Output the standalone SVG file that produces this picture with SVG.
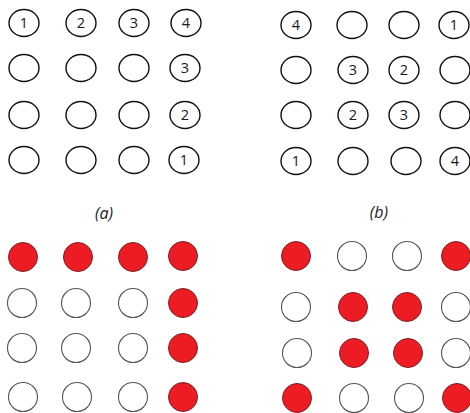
<svg xmlns="http://www.w3.org/2000/svg" width="470" height="413" viewBox="0 0 470 413">
<style>
.o{fill:#fff;stroke:#111;stroke-width:1.4}
.e{fill:#fff;stroke:#555;stroke-width:1.1}
.r{fill:#ED1C24;stroke:#7a2226;stroke-width:1}
.n{font-family:"Open Sans","DejaVu Sans",sans-serif;font-size:14.5px;fill:#1a1a1a;text-anchor:middle}
.cap{font-family:"Open Sans","DejaVu Sans",sans-serif;font-size:16px;font-style:italic;fill:#222;text-anchor:middle}
</style>
<rect width="470" height="413" fill="#fff"/>
<g id="grid-a-numbered">
<g id="a11"><ellipse class="o" cx="24" cy="23" rx="15" ry="13.5"/><text class="n" x="24" y="28">1</text></g>
<g id="a12"><ellipse class="o" cx="81" cy="23" rx="15" ry="13.5"/><text class="n" x="81" y="28">2</text></g>
<g id="a13"><ellipse class="o" cx="134" cy="23" rx="15" ry="13.5"/><text class="n" x="134" y="28">3</text></g>
<g id="a14"><ellipse class="o" cx="186" cy="23" rx="15" ry="13.5"/><text class="n" x="186" y="28">4</text></g>
<g id="a21"><ellipse class="o" cx="24" cy="68" rx="15" ry="13.5"/></g>
<g id="a22"><ellipse class="o" cx="81" cy="68" rx="15" ry="13.5"/></g>
<g id="a23"><ellipse class="o" cx="134" cy="68" rx="15" ry="13.5"/></g>
<g id="a24"><ellipse class="o" cx="185" cy="68" rx="15" ry="13.5"/><text class="n" x="185" y="73">3</text></g>
<g id="a31"><ellipse class="o" cx="24" cy="115" rx="15" ry="13.5"/></g>
<g id="a32"><ellipse class="o" cx="81" cy="115" rx="15" ry="13.5"/></g>
<g id="a33"><ellipse class="o" cx="134" cy="115" rx="15" ry="13.5"/></g>
<g id="a34"><ellipse class="o" cx="185" cy="115" rx="15" ry="13.5"/><text class="n" x="185" y="120">2</text></g>
<g id="a41"><ellipse class="o" cx="24" cy="160" rx="15" ry="13.5"/></g>
<g id="a42"><ellipse class="o" cx="81" cy="160" rx="15" ry="13.5"/></g>
<g id="a43"><ellipse class="o" cx="134" cy="160" rx="15" ry="13.5"/></g>
<g id="a44"><ellipse class="o" cx="184" cy="160" rx="15" ry="13.5"/><text class="n" x="184" y="165">1</text></g>
</g>
<g id="grid-b-numbered">
<g id="b11"><ellipse class="o" cx="296" cy="25" rx="15" ry="13.5"/><text class="n" x="296" y="30">4</text></g>
<g id="b12"><ellipse class="o" cx="352" cy="25" rx="15" ry="13.5"/></g>
<g id="b13"><ellipse class="o" cx="404" cy="25" rx="15" ry="13.5"/></g>
<g id="b14"><ellipse class="o" cx="454" cy="25" rx="15" ry="13.5"/><text class="n" x="454" y="30">1</text></g>
<g id="b21"><ellipse class="o" cx="296" cy="70" rx="15" ry="13.5"/></g>
<g id="b22"><ellipse class="o" cx="353" cy="70" rx="15" ry="13.5"/><text class="n" x="353" y="75">3</text></g>
<g id="b23"><ellipse class="o" cx="404" cy="70" rx="15" ry="13.5"/><text class="n" x="404" y="75">2</text></g>
<g id="b24"><ellipse class="o" cx="455" cy="70" rx="15" ry="13.5"/></g>
<g id="b31"><ellipse class="o" cx="296" cy="115" rx="15" ry="13.5"/></g>
<g id="b32"><ellipse class="o" cx="353" cy="115" rx="15" ry="13.5"/><text class="n" x="353" y="120">2</text></g>
<g id="b33"><ellipse class="o" cx="404" cy="115" rx="15" ry="13.5"/><text class="n" x="404" y="120">3</text></g>
<g id="b34"><ellipse class="o" cx="455" cy="115" rx="15" ry="13.5"/></g>
<g id="b41"><ellipse class="o" cx="296" cy="161" rx="15" ry="13.5"/><text class="n" x="296" y="166">1</text></g>
<g id="b42"><ellipse class="o" cx="353" cy="161" rx="15" ry="13.5"/></g>
<g id="b43"><ellipse class="o" cx="406" cy="161" rx="15" ry="13.5"/></g>
<g id="b44"><ellipse class="o" cx="455" cy="161" rx="15" ry="13.5"/><text class="n" x="455" y="166">4</text></g>
</g>
<text class="cap" x="104" y="219">(a)</text>
<text class="cap" x="379" y="218">(b)</text>
<g id="grid-a-colored">
<circle class="r" cx="23" cy="257" r="14.5"/>
<circle class="r" cx="78" cy="257" r="14.5"/>
<circle class="r" cx="133" cy="257" r="14.5"/>
<circle class="r" cx="183" cy="256" r="14.5"/>
<circle class="e" cx="22" cy="303" r="14.5"/>
<circle class="e" cx="76" cy="303" r="14.5"/>
<circle class="e" cx="133" cy="303" r="14.5"/>
<circle class="r" cx="183" cy="303" r="14.5"/>
<circle class="e" cx="22" cy="348" r="14.5"/>
<circle class="e" cx="76" cy="348" r="14.5"/>
<circle class="e" cx="133" cy="348" r="14.5"/>
<circle class="r" cx="183" cy="348" r="14.5"/>
<circle class="e" cx="23" cy="397" r="14.5"/>
<circle class="e" cx="77" cy="397" r="14.5"/>
<circle class="e" cx="133" cy="397" r="14.5"/>
<circle class="r" cx="183" cy="397" r="14.5"/>
</g>
<g id="grid-b-colored">
<circle class="r" cx="296" cy="256" r="14.5"/>
<circle class="e" cx="352" cy="256" r="14.5"/>
<circle class="e" cx="407" cy="256" r="14.5"/>
<circle class="r" cx="456" cy="256" r="14.5"/>
<circle class="e" cx="296" cy="307" r="14.5"/>
<circle class="r" cx="353" cy="307" r="14.5"/>
<circle class="r" cx="407" cy="307" r="14.5"/>
<circle class="e" cx="456" cy="307" r="14.5"/>
<circle class="e" cx="297" cy="353" r="14.5"/>
<circle class="r" cx="354" cy="353" r="14.5"/>
<circle class="r" cx="408" cy="353" r="14.5"/>
<circle class="e" cx="456" cy="353" r="14.5"/>
<circle class="r" cx="297" cy="398" r="14.5"/>
<circle class="e" cx="354" cy="398" r="14.5"/>
<circle class="e" cx="409" cy="398" r="14.5"/>
<circle class="r" cx="457" cy="398" r="14.5"/>
</g>
</svg>
